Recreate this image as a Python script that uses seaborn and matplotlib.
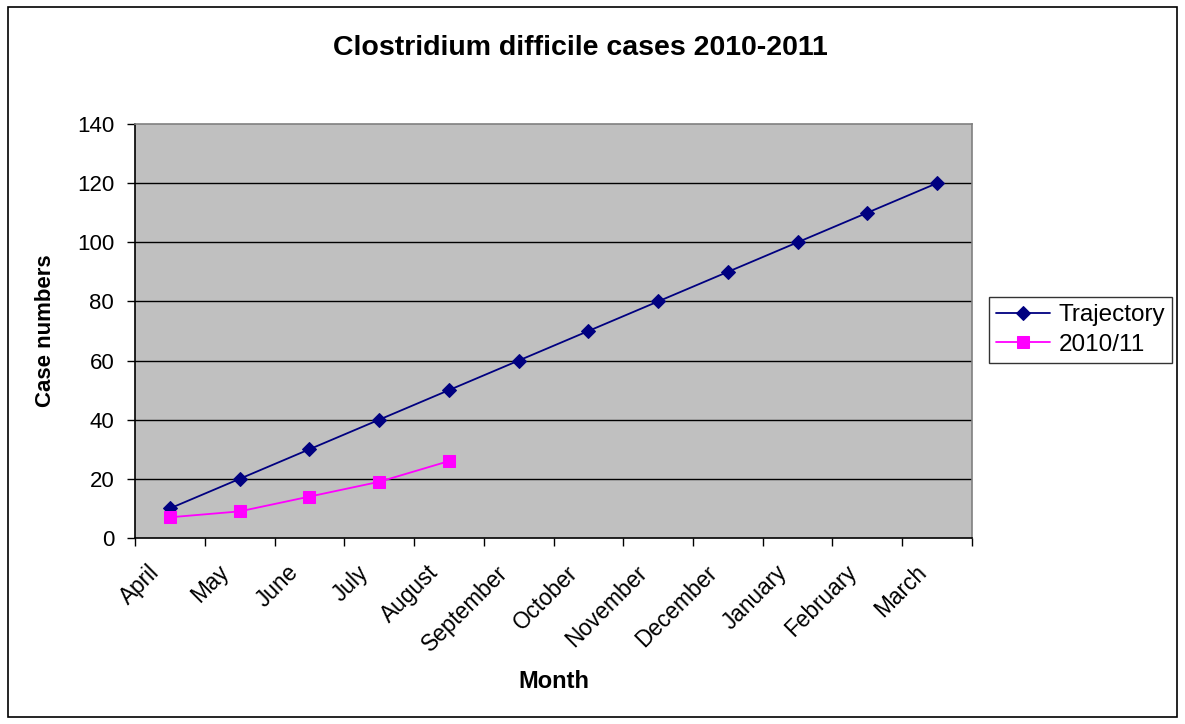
import matplotlib
matplotlib.use("Agg")
import matplotlib.pyplot as plt
import matplotlib.patches as mpatches
import seaborn as sns
import pandas as pd

months = ["April", "May", "June", "July", "August", "September", "October",
          "November", "December", "January", "February", "March"]
trajectory = [10, 20, 30, 40, 50, 60, 70, 80, 90, 100, 110, 120]
actual_2010_11 = [7, 9, 14, 19, 26]

sns.set_theme(style="white")
plt.rcParams["font.family"] = ["Liberation Sans", "DejaVu Sans"]
plt.rcParams.update({"text.color": "black", "axes.labelcolor": "black",
                     "xtick.color": "black", "ytick.color": "black"})

df_traj = pd.DataFrame({"pos": range(len(trajectory)), "cases": trajectory})
df_act = pd.DataFrame({"pos": range(len(actual_2010_11)), "cases": actual_2010_11})

W, H = 1185, 724
fig = plt.figure(figsize=(W / 100, H / 100), dpi=100)
ax = fig.add_axes([135 / W, 1 - 538 / H, (972 - 135) / W, (538 - 124) / H])
ax.set_facecolor("#C0C0C0")

for v in range(20, 140, 20):
    ax.axhline(v, color="black", lw=1, zorder=1)

sns.lineplot(data=df_traj, x="pos", y="cases", ax=ax, color="#000080", lw=1.3,
             marker="D", markersize=7, markeredgecolor="#000080",
             label="Trajectory", zorder=3)
sns.lineplot(data=df_act, x="pos", y="cases", ax=ax, color="#FF00FF", lw=1.3,
             marker="s", markersize=8.5, markeredgecolor="#FF00FF",
             label="2010/11", zorder=4)

ax.set_xlim(-0.5, len(months) - 0.5)
ax.set_ylim(0, 140)
ax.set_yticks(range(0, 141, 20))
ax.set_yticklabels([str(v) for v in range(0, 141, 20)], fontsize=16)

# tick marks between categories; rotated labels end just left of each category centre
ax.set_xticks([i - 0.5 for i in range(len(months) + 1)])
ax.set_xticklabels([])
ax.set_xticks([i - 0.32 for i in range(len(months))], minor=True)
ax.set_xticklabels(months, minor=True, rotation=45, ha="right", va="top",
                   rotation_mode="anchor", fontsize=16.3)
ax.tick_params(axis="x", which="major", direction="out", length=6, width=1, color="black")
ax.tick_params(axis="x", which="minor", length=0, pad=16.5)
ax.tick_params(axis="y", direction="out", length=6, width=1, color="black", pad=9)
ax.yaxis.set_ticks_position("left")
ax.xaxis.set_ticks_position("bottom")

for side in ["top", "right"]:
    ax.spines[side].set_color("#808080")
    ax.spines[side].set_linewidth(1.2)
for side in ["left", "bottom"]:
    ax.spines[side].set_color("black")
    ax.spines[side].set_linewidth(1.2)

ax.set_xlabel("Month", fontsize=17, fontweight="bold", va="center")
ax.xaxis.set_label_coords((554 - 135) / 837, -(682 - 538) / 414)
ax.set_ylabel("Case numbers", fontsize=16, fontweight="bold", va="center")
ax.yaxis.set_label_coords(-(135 - 45) / 837, 0.5)
fig.suptitle("Clostridium difficile cases 2010-2011", fontsize=20.5,
             fontweight="bold", x=580 / W, y=1 - 48 / H, va="center")

ax.get_legend().remove()
handles, labels = ax.get_legend_handles_labels()
leg = fig.legend(handles, labels, loc="center left",
                 bbox_to_anchor=(989 / W, 1 - 330 / H), fontsize=17.5,
                 frameon=True, fancybox=False, edgecolor="black",
                 handlelength=2.2, handletextpad=0.35, borderpad=0.3,
                 labelspacing=0.3, borderaxespad=0)
leg.get_frame().set_linewidth(1)

fig.patches.append(mpatches.Rectangle((8 / W, 1 - 717 / H), 1169 / W, 710 / H,
                                      transform=fig.transFigure, fill=False,
                                      edgecolor="black", lw=1.2))

fig.savefig("out.png", dpi=100)
